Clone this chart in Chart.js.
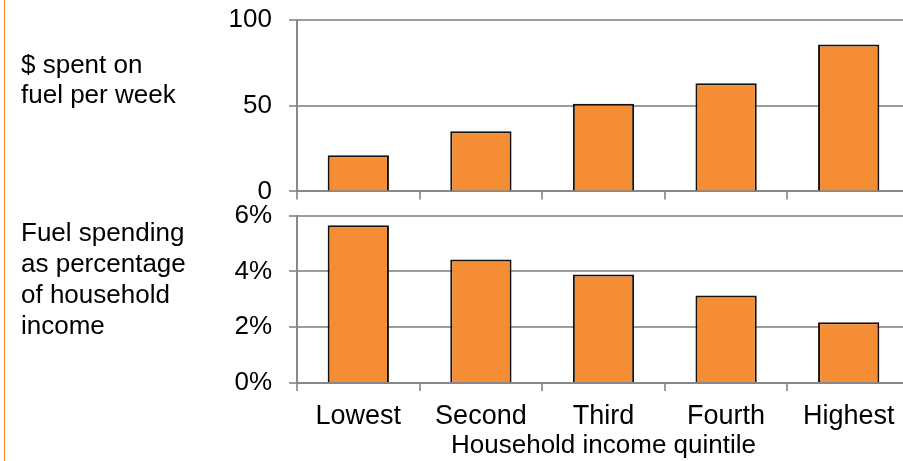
<!DOCTYPE html>
<html>
<head>
<meta charset="utf-8">
<script src="https://cdn.jsdelivr.net/npm/chart.js@4.4.0/dist/chart.umd.min.js"></script>
<style>
  html, body { margin: 0; padding: 0; background: #fff; overflow: hidden; width: 903px; height: 461px; }
  #wrap { position: relative; width: 903px; height: 461px; overflow: hidden; }
  .cv { position: absolute; left: 0; }
  #c1 { top: -13px; }
  #c2 { top: 183px; }
  .lbl { position: absolute; left: 21px; font-family: "Liberation Sans", Arial, sans-serif; font-size: 26px; color: #000; white-space: nowrap; }
  #edge { position: absolute; left: 4px; top: 0; width: 1px; height: 461px; background: #F28A2C; }
</style>
</head>
<body>
<div id="wrap">
  <div id="edge"></div>
  <div class="cv" id="c1"><canvas id="top"></canvas></div>
  <div class="cv" id="c2"><canvas id="bot"></canvas></div>
  <div class="lbl" style="top:49px; line-height:30px;">$ spent on<br>fuel per week</div>
  <div class="lbl" style="top:217px; line-height:31px;">Fuel spending<br>as percentage<br>of household<br>income</div>
</div>
<script>
const categories = ['Lowest', 'Second', 'Third', 'Fourth', 'Highest'];
const dollarsPerWeek = [21, 35, 51, 63, 85.5];
const pctOfIncome = [5.65, 4.43, 3.89, 3.14, 2.18];
const dollarTicks = [0, 50, 100];
const pctTicks = [0, 2, 4, 6];
const xTitle = 'Household income quintile';

const FONT = '"Liberation Sans", Arial, sans-serif';
const BAR_FILL = '#F58D34';
const GRID = '#9c9c9c';
const AXIS = '#888888';

function makeCanvas(id, w, h) {
  const c = document.getElementById(id);
  c.width = w; c.height = h;
  c.style.width = w + 'px'; c.style.height = h + 'px';
  return c;
}

function yScale(tickValues, fmt) {
  return {
    min: tickValues[0],
    max: tickValues[tickValues.length - 1],
    afterBuildTicks: (s) => { s.ticks = tickValues.map(v => ({ value: v })); },
    afterFit: (s) => { s.width = 297; },
    grid: { color: GRID, lineWidth: 2, tickLength: 8, tickColor: GRID, drawTicks: true },
    border: { display: true, color: AXIS, width: 2 },
    ticks: { color: '#000', font: { family: FONT, size: 26 }, padding: 17, callback: fmt }
  };
}

Chart.defaults.animation = false;

new Chart(makeCanvas('top', 910, 237), {
  type: 'bar',
  data: {
    labels: categories,
    datasets: [{
      data: dollarsPerWeek,
      backgroundColor: BAR_FILL,
      borderColor: '#111',
      borderWidth: 2,
      barPercentage: 0.5,
      categoryPercentage: 1.0
    }]
  },
  options: {
    responsive: false,
    animation: false,
    layout: { padding: 0 },
    plugins: { legend: { display: false }, tooltip: { enabled: false }, title: { display: false } },
    scales: {
      x: {
        offset: true,
        grid: { display: true, drawOnChartArea: false, drawTicks: true, tickLength: 8, color: GRID, lineWidth: 2, offset: true },
        border: { display: true, color: AXIS, width: 2 },
        ticks: { display: false }
      },
      y: yScale(dollarTicks, (v) => String(v))
    }
  }
});

new Chart(makeCanvas('bot', 910, 278), {
  type: 'bar',
  data: {
    labels: categories,
    datasets: [{
      data: pctOfIncome,
      backgroundColor: BAR_FILL,
      borderColor: '#111',
      borderWidth: 2,
      barPercentage: 0.5,
      categoryPercentage: 1.0
    }]
  },
  options: {
    responsive: false,
    animation: false,
    layout: { padding: 0 },
    plugins: { legend: { display: false }, tooltip: { enabled: false }, title: { display: false } },
    scales: {
      x: {
        offset: true,
        afterFit: (s) => { s.height = 78; },
        grid: { display: true, drawOnChartArea: false, drawTicks: true, tickLength: 8, color: GRID, lineWidth: 2, offset: true },
        border: { display: true, color: AXIS, width: 2 },
        ticks: { color: '#000', font: { family: FONT, size: 27 }, padding: 9, maxRotation: 0, autoSkip: false },
        title: { display: true, text: xTitle, color: '#000', font: { family: FONT, size: 26 }, padding: { top: 0, bottom: 0 } }
      },
      y: yScale(pctTicks, (v) => v + '%')
    }
  }
});
</script>
</body>
</html>
